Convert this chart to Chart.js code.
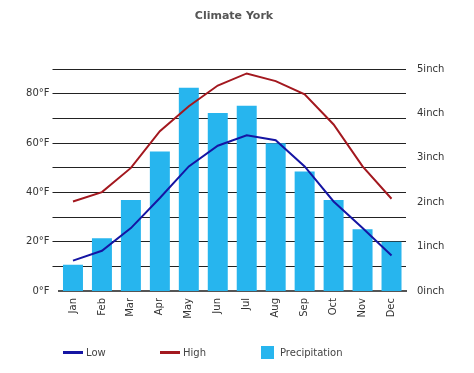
<!DOCTYPE html>
<html>
<head>
<meta charset="utf-8">
<script src="https://cdn.jsdelivr.net/npm/chart.js@4.4.1/dist/chart.umd.min.js"></script>
<style>
  body { margin: 0; background: #fff; }
  #caixa { position: relative; width: 474px; height: 373px; }
  #legenda { position: absolute; left: 0; top: 0; width: 474px; height: 373px; pointer-events: none;
             font-family: 'DejaVu Sans', sans-serif; font-size: 10px; color: #444; }
  #legenda .item { position: absolute; top: 346px; height: 13px; line-height: 13px; white-space: nowrap; }
  #legenda .marca { position: absolute; }
  #legenda .texto { position: absolute; top: 0; }
</style>
</head>
<body>
<div id="caixa">
  <canvas id="grafico" width="474" height="373"></canvas>
  <div id="legenda"></div>
</div>
<script>
var meses = ['Jan', 'Feb', 'Mar', 'Apr', 'May', 'Jun', 'Jul', 'Aug', 'Sep', 'Oct', 'Nov', 'Dec'];
var baixa = [12.3, 16.3, 25.5, 37.7, 50.5, 58.9, 63.1, 61.1, 50.5, 36.3, 25.5, 14.4];
var alta = [36.3, 40.1, 49.9, 64.8, 74.9, 83.3, 88.2, 85.1, 79.7, 67.5, 50.5, 37.4];
var chuva = [0.59, 1.19, 2.05, 3.14, 4.58, 4.01, 4.17, 3.33, 2.69, 2.05, 1.39, 1.11];

var corBaixa = '#1515a3';
var corAlta = '#a3181f';
var corChuva = '#27b5ee';
var fonte = 'DejaVu Sans';

const data_clima = {
    labels: meses,
    datasets: [{
        type: 'line',
        label: 'Low',
        data: baixa,
        borderColor: corBaixa,
        backgroundColor: corBaixa,
        borderWidth: 2,
        pointRadius: 0,
        tension: 0,
        yAxisID: 'y'
    }, {
        type: 'line',
        label: 'High',
        data: alta,
        borderColor: corAlta,
        backgroundColor: corAlta,
        borderWidth: 2,
        pointRadius: 0,
        tension: 0,
        yAxisID: 'y'
    }, {
        type: 'bar',
        label: 'Precipitation',
        data: chuva,
        backgroundColor: corChuva,
        borderWidth: 0,
        barPercentage: 0.69,
        categoryPercentage: 1.0,
        yAxisID: 'y1'
    }]
};

// html legend, one entry per dataset (left offsets of each item)
var posLegenda = [63, 160, 260];
const legendaHtml = {
    id: 'legendaHtml',
    afterUpdate(chart) {
        var div = document.getElementById('legenda');
        div.innerHTML = '';
        chart.data.datasets.forEach(function (ds, i) {
            var item = document.createElement('div');
            item.className = 'item';
            item.style.left = posLegenda[i] + 'px';
            var marca = document.createElement('span');
            marca.className = 'marca';
            var texto = document.createElement('span');
            texto.className = 'texto';
            texto.textContent = ds.label;
            if (ds.type === 'bar') {
                marca.style.cssText = 'left:1px;top:0;width:13px;height:13px;background:' + ds.backgroundColor;
                texto.style.left = '20px';
            } else {
                marca.style.cssText = 'left:0;top:5px;width:20px;height:3px;background:' + ds.borderColor;
                texto.style.left = '23px';
            }
            item.appendChild(marca);
            item.appendChild(texto);
            div.appendChild(item);
        });
    }
};

const config_clima = {
    type: 'bar',
    data: data_clima,
    plugins: [legendaHtml],
    options: {
        responsive: false,
        animation: false,
        layout: { padding: { left: 11, right: 17, top: 0, bottom: 52 } },
        plugins: {
            title: {
                display: true,
                text: 'Climate York',
                color: '#555',
                font: { family: fonte, size: 11, weight: 'bold' },
                padding: { top: 10, bottom: 45.8 }
            },
            legend: { display: false },
            tooltip: { enabled: false }
        },
        scales: {
            x: {
                grid: { display: false, drawTicks: false },
                border: { display: true, color: '#555', width: 2 },
                ticks: {
                    minRotation: 90, maxRotation: 90, autoSkip: false, padding: 7,
                    color: '#333', font: { family: fonte, size: 10 }
                },
                afterFit: function (s) { s.height = 30; }
            },
            y: {
                position: 'left',
                min: 0,
                max: 90,
                ticks: {
                    stepSize: 10, autoSkip: false, padding: 3,
                    color: '#333', font: { family: fonte, size: 10 },
                    callback: function (v) { return v % 20 === 0 ? v + '°F' : ''; }
                },
                grid: {
                    tickLength: 6,
                    lineWidth: 1,
                    color: function (ctx) { return ctx.tick && ctx.tick.value === 0 ? 'rgba(0,0,0,0)' : '#222'; }
                },
                border: { display: false },
                afterFit: function (s) { s.width = 47.5; }
            },
            y1: {
                position: 'right',
                min: 0,
                max: 5,
                ticks: {
                    stepSize: 1, padding: 11,
                    color: '#333', font: { family: fonte, size: 10 },
                    callback: function (v) { return v + 'inch'; }
                },
                grid: { display: false, drawTicks: false },
                border: { display: false },
                afterFit: function (s) { s.width = 51; }
            }
        }
    }
};

const grafico_clima = new Chart(document.getElementById('grafico'), config_clima);
</script>
</body>
</html>
